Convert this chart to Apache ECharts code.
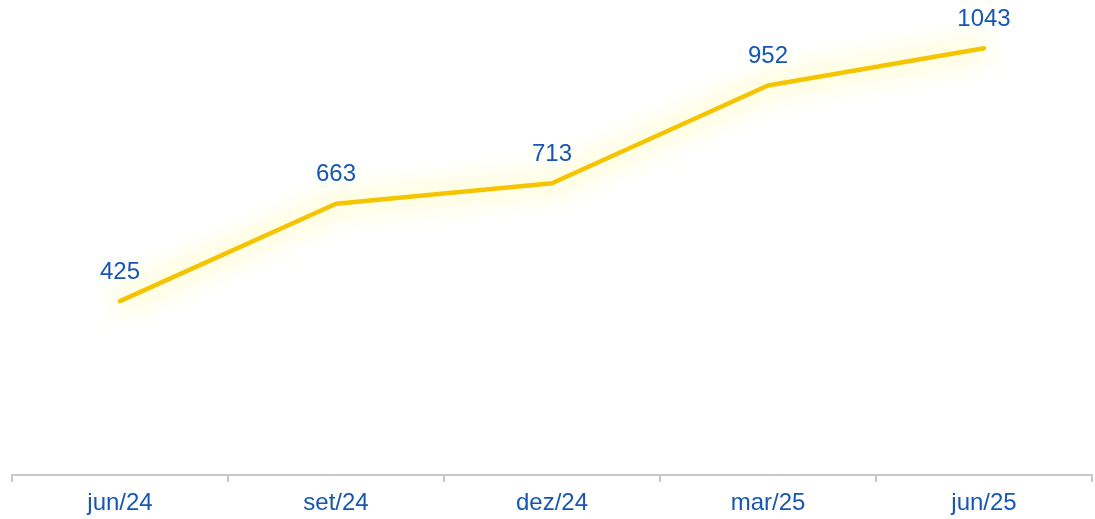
<!DOCTYPE html>
<html>
<head>
<meta charset="utf-8">
<script src="https://cdn.jsdelivr.net/npm/echarts@6/dist/echarts.min.js"></script>
<style>
  html, body { margin: 0; padding: 0; background: #fff; }
  #main { width: 1095px; height: 519px; }
</style>
</head>
<body>
<div id="main"></div>
<script>
// dados
const categories = ['jun/24', 'set/24', 'dez/24', 'mar/25', 'jun/25'];
const values = [425, 663, 713, 952, 1043];

const chart = echarts.init(document.getElementById('main'), null, { renderer: 'canvas' });

const option = {
  animation: false,
  grid: {
    left: 12,
    right: 3,
    top: 25,
    bottom: 44
  },
  xAxis: {
    type: 'category',
    data: categories,
    boundaryGap: true,
    axisLine: {
      lineStyle: { color: '#c8c8c8', width: 2 }
    },
    axisTick: {
      show: true,
      length: 7,
      lineStyle: { color: '#c8c8c8', width: 2 }
    },
    axisLabel: {
      color: '#1756b2',
      fontFamily: 'Liberation Sans, Arial, sans-serif',
      fontSize: 24,
      margin: 16
    }
  },
  yAxis: {
    type: 'value',
    min: 0,
    max: 1100,
    show: false,
    splitLine: { show: false }
  },
  series: [
    {
      type: 'line',
      data: values,
      showSymbol: true,
      symbol: 'circle',
      symbolSize: 2,
      itemStyle: { color: 'rgba(0,0,0,0)', borderWidth: 0 },
      lineStyle: {
        color: '#f5c400',
        width: 4.5,
        cap: 'round',
        join: 'round',
        shadowColor: 'rgba(255, 242, 50, 1)',
        shadowBlur: 28
      },
      label: {
        show: true,
        position: 'top',
        distance: 16,
        color: '#1756b2',
        fontFamily: 'Liberation Sans, Arial, sans-serif',
        fontSize: 24
      }
    }
  ]
};

chart.setOption(option);
</script>
</body>
</html>
